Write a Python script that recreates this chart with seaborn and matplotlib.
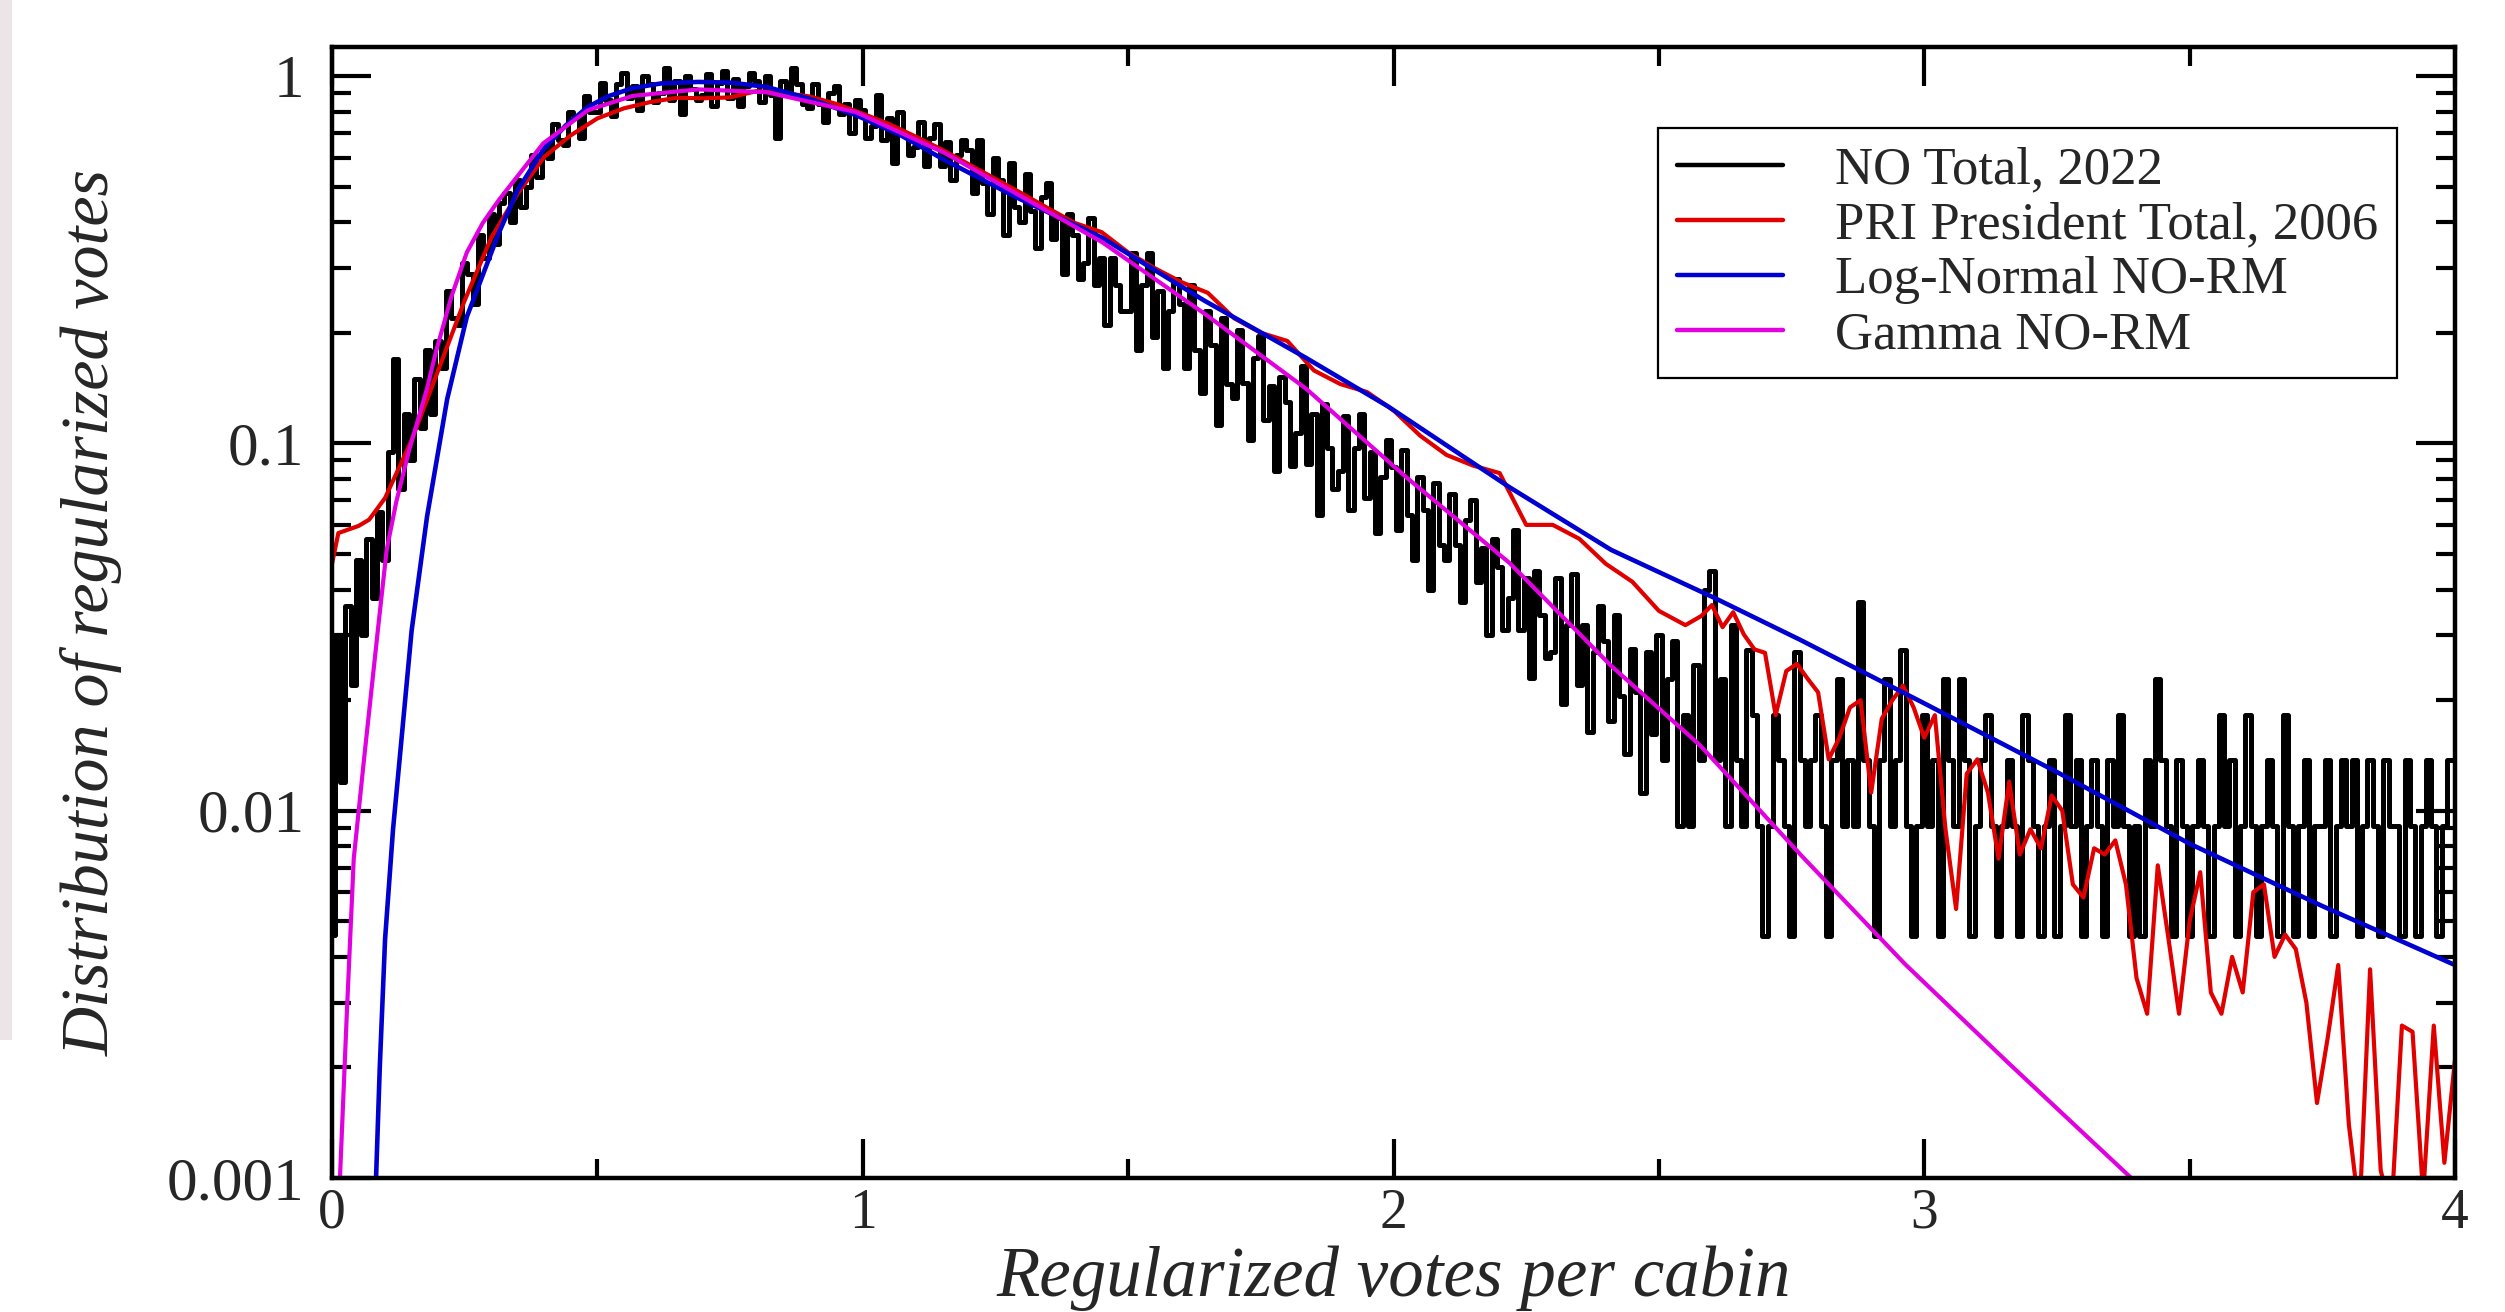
import numpy as np
import pandas as pd
import matplotlib
matplotlib.use("Agg")
import matplotlib.pyplot as plt
import seaborn as sns
from matplotlib.ticker import FixedLocator, LogLocator, MultipleLocator, NullFormatter, FixedFormatter
from matplotlib.patches import Rectangle

# ---------------- data ----------------
# NO Total, 2022 (histogram, bin centres every 0.01)
no_x = np.round(np.arange(0, 4.0001, 0.01), 2)
no_total_2022 = [
    0.0046, 0.03, 0.012, 0.036, 0.022, 0.048, 0.03, 0.055, 0.038, 0.065,
    0.048, 0.095, 0.17, 0.075, 0.12, 0.09, 0.15, 0.11, 0.18, 0.12,
    0.19, 0.16, 0.26, 0.22, 0.21, 0.31, 0.29, 0.24, 0.37, 0.32,
    0.42, 0.35, 0.45, 0.48, 0.40, 0.52, 0.44, 0.50, 0.61, 0.53,
    0.65, 0.60, 0.74, 0.67, 0.65, 0.80, 0.78, 0.68, 0.88, 0.80,
    0.80, 0.96, 0.86, 0.78, 0.95, 1.02, 0.87, 0.94, 0.81, 1.0,
    0.95, 0.85, 0.90, 1.05, 0.86, 0.97, 0.79, 1.0, 0.92, 0.86,
    0.89, 1.01, 0.83, 0.96, 1.03, 0.87, 0.98, 0.83, 0.94, 1.02,
    0.97, 0.85, 1.0, 0.89, 0.68, 0.97, 0.91, 1.05, 0.95, 0.84,
    0.82, 0.95, 0.84, 0.75, 0.90, 0.94, 0.79, 0.84, 0.70, 0.86,
    0.81, 0.68, 0.73, 0.89, 0.67, 0.77, 0.58, 0.80, 0.69, 0.61,
    0.64, 0.75, 0.57, 0.68, 0.74, 0.57, 0.66, 0.52, 0.61, 0.67,
    0.63, 0.48, 0.67, 0.51, 0.42, 0.60, 0.52, 0.37, 0.58, 0.44,
    0.40, 0.54, 0.43, 0.34, 0.47, 0.51, 0.36, 0.41, 0.29, 0.42,
    0.37, 0.28, 0.31, 0.41, 0.27, 0.32, 0.21, 0.32, 0.27, 0.23,
    0.23, 0.33, 0.18, 0.27, 0.33, 0.195, 0.26, 0.16, 0.23, 0.28,
    0.24, 0.16, 0.27, 0.18, 0.137, 0.23, 0.185, 0.112, 0.22, 0.145,
    0.133, 0.204, 0.146, 0.102, 0.171, 0.196, 0.116, 0.143, 0.084, 0.152,
    0.13, 0.087, 0.107, 0.162, 0.088, 0.12, 0.064, 0.128, 0.097, 0.075,
    0.084, 0.119, 0.066, 0.097, 0.12, 0.071, 0.095, 0.057, 0.081, 0.102,
    0.086, 0.058, 0.096, 0.064, 0.048, 0.081, 0.066, 0.040, 0.078, 0.053,
    0.048, 0.073, 0.053, 0.037, 0.062, 0.070, 0.042, 0.052, 0.030, 0.055,
    0.046, 0.031, 0.038, 0.058, 0.031, 0.043, 0.023, 0.045, 0.034, 0.026,
    0.027, 0.043, 0.0195, 0.032, 0.044, 0.022, 0.032, 0.0164, 0.027, 0.036,
    0.029, 0.0176, 0.034, 0.0205, 0.0143, 0.0275, 0.021, 0.0112, 0.027, 0.0162,
    0.03, 0.0137, 0.0228, 0.029, 0.0091, 0.0182, 0.0091, 0.025, 0.0137, 0.04,
    0.045, 0.0137, 0.0228, 0.0091, 0.032, 0.0137, 0.0091, 0.0273, 0.0182, 0.0091,
    0.00455, 0.0091, 0.0182, 0.0137, 0.0091, 0.00455, 0.027, 0.0137, 0.0091, 0.0137,
    0.0182, 0.0091, 0.00455, 0.0137, 0.0228, 0.0091, 0.0137, 0.0091, 0.037, 0.0137,
    0.0091, 0.00455, 0.0137, 0.0228, 0.0091, 0.0137, 0.0273, 0.0091, 0.00455, 0.0091,
    0.0182, 0.0091, 0.0137, 0.00455, 0.0228, 0.0137, 0.0091, 0.0228, 0.0137, 0.00455,
    0.0091, 0.0137, 0.0182, 0.0091, 0.00455, 0.0091, 0.0137, 0.0091, 0.00455, 0.0182,
    0.0137, 0.0091, 0.00455, 0.0091, 0.0137, 0.00455, 0.0091, 0.0182, 0.0091, 0.0137,
    0.00455, 0.0091, 0.0137, 0.0091, 0.00455, 0.0137, 0.0091, 0.0182, 0.0091, 0.00455,
    0.0091, 0.00455, 0.0137, 0.0091, 0.0228, 0.0137, 0.0091, 0.00455, 0.0137, 0.0091,
    0.00455, 0.0091, 0.0137, 0.0091, 0.00455, 0.0091, 0.0182, 0.0091, 0.0137, 0.00455,
    0.0091, 0.0182, 0.0091, 0.00455, 0.0091, 0.0137, 0.0091, 0.00455, 0.0182, 0.0091,
    0.00455, 0.0091, 0.0137, 0.00455, 0.0091, 0.0091, 0.0137, 0.00455, 0.0091, 0.0137,
    0.0091, 0.0137, 0.00455, 0.0091, 0.0137, 0.0091, 0.00455, 0.0137, 0.0091, 0.0091,
    0.00455, 0.0137, 0.0091, 0.00455, 0.0091, 0.0137, 0.0091, 0.00455, 0.0091, 0.0137,
    0.0137,
]

# PRI President Total, 2006
pri_x = [0.0, 0.012, 0.05, 0.07, 0.10, 0.15, 0.20, 0.25, 0.30, 0.35, 0.40, 0.45, 0.50,
         0.55, 0.60, 0.65, 0.70, 0.75, 0.80, 0.85, 0.90, 0.95, 1.00, 1.05, 1.10,
         1.15, 1.20, 1.25, 1.30, 1.35, 1.40, 1.45, 1.50, 1.55, 1.60, 1.65, 1.70,
         1.75, 1.80, 1.85, 1.90, 1.95, 2.00, 2.05, 2.10, 2.15, 2.20, 2.25, 2.30,
         2.35, 2.40, 2.45, 2.50, 2.55] + list(np.round(np.arange(2.58, 4.0001, 0.02), 2))
pri_total_2006 = [
    0.047, 0.057, 0.0596, 0.062, 0.071, 0.102, 0.158, 0.245, 0.363, 0.479, 0.603, 0.69, 0.767,
    0.817, 0.85, 0.873, 0.87, 0.875, 0.91, 0.90, 0.88, 0.84, 0.79, 0.74, 0.684,
    0.63, 0.575, 0.525, 0.479, 0.436, 0.398, 0.376, 0.331, 0.30, 0.275, 0.257, 0.219,
    0.20, 0.19, 0.158, 0.145, 0.138, 0.123, 0.105, 0.093, 0.087, 0.083, 0.060, 0.060,
    0.055, 0.047, 0.042, 0.035, 0.032,
    0.0339, 0.0363, 0.0316, 0.0347, 0.0302, 0.0275, 0.0269, 0.0182, 0.0240, 0.0251,
    0.0229, 0.0210, 0.0138, 0.0158, 0.0191, 0.0200, 0.0112, 0.0178, 0.0200, 0.0219,
    0.0191, 0.0158, 0.0182, 0.0089, 0.0054, 0.0126, 0.0138, 0.0112, 0.0074, 0.0120,
    0.0076, 0.0089, 0.0079, 0.0110, 0.0100, 0.0063, 0.0058, 0.0079, 0.0076, 0.0083,
    0.0063, 0.0035, 0.0028, 0.0071, 0.0045, 0.0028, 0.0050, 0.0068, 0.0032, 0.0028,
    0.0040, 0.0032, 0.0060, 0.0063, 0.0040, 0.0046, 0.0042, 0.0030, 0.0016, 0.0024,
    0.0038, 0.0014, 0.0008, 0.0037, 0.00105, 0.0008, 0.0026, 0.0025, 0.0009, 0.0026,
    0.0011, 0.0021,
]

# Log-Normal NO-RM
lognorm_x = [0.078, 0.083, 0.09, 0.10, 0.115, 0.128, 0.15, 0.179, 0.217, 0.254, 0.314,
             0.35, 0.398, 0.44, 0.482, 0.52, 0.566, 0.62, 0.69, 0.75, 0.818, 0.90,
             0.987, 1.07, 1.155, 1.289, 1.451, 1.643, 1.835, 1.99, 2.219, 2.41,
             2.604, 2.766, 3.0, 3.25, 3.5, 3.75, 4.0]
lognorm_y = [0.00063, 0.001, 0.0020, 0.00447, 0.0089, 0.0141, 0.0309, 0.0631, 0.132, 0.221, 0.373,
             0.49, 0.630, 0.733, 0.824, 0.881, 0.927, 0.955, 0.964, 0.96, 0.935, 0.867,
             0.783, 0.692, 0.590, 0.468, 0.363, 0.245, 0.171, 0.126, 0.0759, 0.0513,
             0.0380, 0.0292, 0.0196, 0.01274, 0.00813, 0.0055, 0.0038]

# Gamma NO-RM
gamma_x = [0.010, 0.015, 0.028, 0.041, 0.061, 0.087, 0.103, 0.121, 0.145, 0.179, 0.196,
           0.225, 0.254, 0.284, 0.314, 0.398, 0.482, 0.566, 0.69, 0.818, 0.987, 1.155, 1.289,
           1.451, 1.643, 1.835, 2.027, 2.219, 2.41, 2.577, 2.771, 2.964, 3.158,
           3.39, 3.45]
gamma_y = [0.00063, 0.001, 0.00282, 0.00741, 0.0141, 0.0316, 0.0513, 0.0692, 0.0955, 0.141, 0.178,
           0.251, 0.331, 0.398, 0.459, 0.656, 0.807, 0.883, 0.920, 0.904, 0.798, 0.617, 0.479,
           0.353, 0.226, 0.141, 0.0802, 0.0472, 0.0248, 0.0151, 0.00748, 0.00382, 0.00206,
           0.001, 0.00083]

labels = ["NO Total, 2022", "PRI President Total, 2006", "Log-Normal NO-RM", "Gamma NO-RM"]
colors = ["#000000", "#e00000", "#0000d0", "#e000e0"]
y_ticks = [0.001, 0.01, 0.1, 1]
y_tick_labels = ["0.001", "0.01", "0.1", "1"]
x_ticks = [0, 1, 2, 3, 4]

# ---------------- style ----------------
sns.set_style("ticks")
plt.rcParams["font.family"] = ["Liberation Serif", "DejaVu Serif"]

fig = plt.figure(figsize=(25.05, 13.12), dpi=100)
fig.patch.set_facecolor("white")
# faint strip on the left edge of the original image
fig.add_artist(Rectangle((0, 1 - 1040 / 1312), 12 / 2505, 1040 / 1312,
                         transform=fig.transFigure, facecolor="#ece5e7", edgecolor="none", zorder=0))

ax = fig.add_axes([332 / 2505, 1 - 1178 / 1312, (2455 - 332) / 2505, (1178 - 47) / 1312])
ax.set_facecolor("white")

df_no = pd.DataFrame({"x": no_x, "y": no_total_2022})
df_pri = pd.DataFrame({"x": pri_x, "y": pri_total_2006})
df_ln = pd.DataFrame({"x": lognorm_x, "y": lognorm_y})
df_gm = pd.DataFrame({"x": gamma_x, "y": gamma_y})

sns.lineplot(data=df_no, x="x", y="y", ax=ax, color=colors[0], lw=3.6, sort=False,
             estimator=None, drawstyle="steps-mid", label=labels[0])
sns.lineplot(data=df_pri, x="x", y="y", ax=ax, color=colors[1], lw=3.0, sort=False,
             estimator=None, label=labels[1])
sns.lineplot(data=df_ln, x="x", y="y", ax=ax, color=colors[2], lw=3.3, sort=False,
             estimator=None, label=labels[2])
sns.lineplot(data=df_gm, x="x", y="y", ax=ax, color=colors[3], lw=3.0, sort=False,
             estimator=None, label=labels[3])

ax.set_yscale("log")
ax.set_xlim(0, 4)
ax.set_ylim(0.001, 1.2)

ax.xaxis.set_major_locator(FixedLocator(x_ticks))
ax.xaxis.set_minor_locator(MultipleLocator(0.5))
ax.yaxis.set_major_locator(FixedLocator(y_ticks))
ax.yaxis.set_major_formatter(FixedFormatter(y_tick_labels))
ax.yaxis.set_minor_locator(LogLocator(base=10, subs=np.arange(2, 10)))
ax.yaxis.set_minor_formatter(NullFormatter())

ax.tick_params(which="both", direction="in", top=True, right=True, width=3.0, color="black")
ax.tick_params(which="major", length=28)
ax.tick_params(which="minor", length=14)
ax.tick_params(axis="x", which="major", labelsize=40, pad=7)
ax.tick_params(axis="y", which="major", labelsize=44, pad=20)
for sp in ax.spines.values():
    sp.set_linewidth(3.2)
    sp.set_color("black")
    sp.set_visible(True)

ax.set_xlabel("Regularized votes per cabin", fontsize=51, fontstyle="italic")
ax.xaxis.label.set_va("baseline")
ax.xaxis.set_label_coords(0.5, (1178 - 1296) / 1131)
ax.set_ylabel("Distribution of regularized votes", fontsize=49, fontstyle="italic")
ax.yaxis.label.set_va("center")
ax.yaxis.set_label_coords((92 - 332) / 2123, 0.5)

leg = ax.legend(loc="upper right", bbox_to_anchor=((2397 - 332) / 2123, (1178 - 128) / 1131),
                borderaxespad=0, fontsize=38, frameon=True, fancybox=False, framealpha=1,
                edgecolor="black", handlelength=2.0, handletextpad=1.0, labelspacing=0.13,
                borderpad=0.35)
leg.get_frame().set_linewidth(1.6)
for line in leg.get_lines():
    line.set_linewidth(3.2)

fig.savefig("out.png", dpi=100, facecolor="white")
